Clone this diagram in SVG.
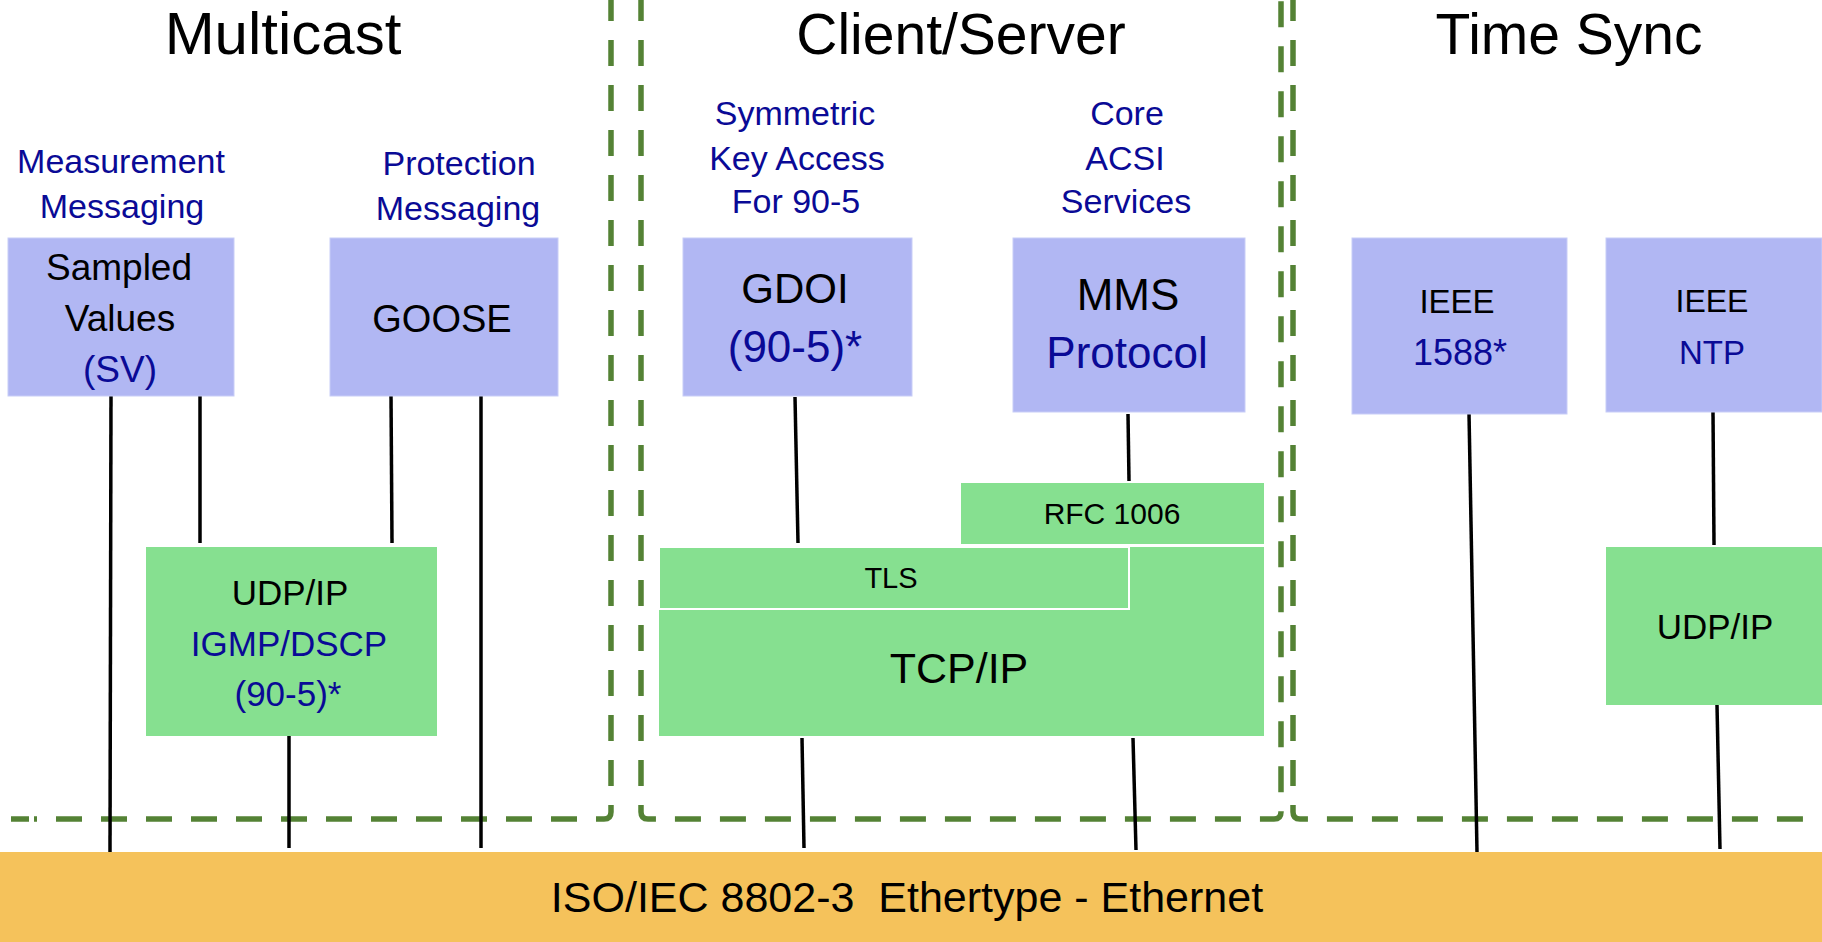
<svg xmlns="http://www.w3.org/2000/svg" width="1822" height="942" viewBox="0 0 1822 942">
<style>
text{font-family:"Liberation Sans",Arial,sans-serif;text-anchor:middle;fill:#000}
.t{font-size:57px}
.lb{font-size:34px;fill:#0a0a96}
.b{fill:#0a0a96}
.proto{fill:#b1b7f3;stroke:#c8cdf7;stroke-width:1}
.tr{fill:#86e090}
.dash{fill:none;stroke:#548235;stroke-width:5.5;stroke-dasharray:26 19}
.ln{stroke:#000;stroke-width:3.5;fill:none}
</style>
<rect width="1822" height="942" fill="#fff"/>
<g id="regions">
<path d="M11 819 H29 M34 819 H37" fill="none" stroke="#548235" stroke-width="5.5"/>
<path class="dash" d="M56 819 H604 Q611 819 611 812 V-5"/>
<path class="dash" d="M641 -5 V812 Q641 819 648 819 H1274 Q1281 819 1281 812 V-5"/>
<path class="dash" d="M1293 -5 V812 Q1293 819 1300 819 H1805"/>
</g>
<g id="titles">
<text class="t" x="283" y="54" font-size="60" style="font-size:60px">Multicast</text>
<text class="t" x="961" y="54">Client/Server</text>
<text class="t" x="1569" y="54">Time Sync</text>
</g>
<g id="connectors">
<line class="ln" x1="111" y1="394" x2="110" y2="852"/>
<line class="ln" x1="200" y1="394" x2="200" y2="543"/>
<line class="ln" x1="391" y1="394" x2="392" y2="543"/>
<line class="ln" x1="481" y1="394" x2="481" y2="848"/>
<line class="ln" x1="289" y1="735" x2="289" y2="848"/>
<line class="ln" x1="795" y1="397" x2="798" y2="543"/>
<line class="ln" x1="802" y1="738" x2="804" y2="848"/>
<line class="ln" x1="1133" y1="738" x2="1136" y2="850"/>
<line class="ln" x1="1128" y1="414" x2="1129" y2="481"/>
<line class="ln" x1="1469" y1="413" x2="1477" y2="852"/>
<line class="ln" x1="1713" y1="412" x2="1714" y2="545"/>
<line class="ln" x1="1717" y1="705" x2="1720" y2="849"/>
</g>
<g id="sv">
<text class="lb" x="121" y="173">Measurement</text>
<text class="lb" x="122" y="218">Messaging</text>
<rect class="proto" x="8" y="238" width="226" height="158"/>
<text x="119" y="280" font-size="37">Sampled</text>
<text x="120" y="331" font-size="37">Values</text>
<text x="120" y="382" font-size="37" class="b">(SV)</text>
</g>
<g id="goose">
<text class="lb" x="459" y="175">Protection</text>
<text class="lb" x="458" y="220">Messaging</text>
<rect class="proto" x="330" y="238" width="228" height="158"/>
<text x="442" y="332" font-size="38">GOOSE</text>
</g>
<g id="udp-multicast">
<rect class="tr" x="146" y="547" width="291" height="189"/>
<text x="290" y="605" font-size="35">UDP/IP</text>
<text x="289" y="656" font-size="35" class="b">IGMP/DSCP</text>
<text x="288" y="706" font-size="35" class="b">(90-5)*</text>
</g>
<g id="gdoi">
<text class="lb" x="795" y="125">Symmetric</text>
<text class="lb" x="797" y="170">Key Access</text>
<text class="lb" x="796" y="213">For 90-5</text>
<rect class="proto" x="683" y="238" width="229" height="158"/>
<text x="795" y="303" font-size="42">GDOI</text>
<text x="795" y="362" font-size="44" class="b">(90-5)*</text>
</g>
<g id="mms">
<text class="lb" x="1127" y="125">Core</text>
<text class="lb" x="1125" y="170">ACSI</text>
<text class="lb" x="1126" y="213">Services</text>
<rect class="proto" x="1013" y="238" width="232" height="174"/>
<text x="1128" y="310" font-size="44">MMS</text>
<text x="1127" y="368" font-size="44" class="b">Protocol</text>
</g>
<g id="rfc1006">
<rect class="tr" x="961" y="483" width="303" height="61"/>
<text x="1112" y="524" font-size="30">RFC 1006</text>
</g>
<g id="tcpip">
<rect class="tr" x="659" y="547" width="605" height="189"/>
<text x="959" y="683" font-size="43">TCP/IP</text>
</g>
<g id="tls">
<rect class="tr" x="659" y="547" width="470" height="62" stroke="#fff" stroke-width="2"/>
<text x="891" y="588" font-size="29">TLS</text>
</g>
<g id="ieee1588">
<rect class="proto" x="1352" y="238" width="215" height="176"/>
<text x="1457" y="313" font-size="33">IEEE</text>
<text x="1460" y="365" font-size="36" class="b">1588*</text>
</g>
<g id="ntp">
<rect class="proto" x="1606" y="238" width="216" height="174"/>
<text x="1712" y="312" font-size="32">IEEE</text>
<text x="1712" y="364" font-size="33" class="b">NTP</text>
</g>
<g id="udp-timesync">
<rect class="tr" x="1606" y="547" width="216" height="158"/>
<text x="1715" y="639" font-size="35">UDP/IP</text>
</g>
<g id="ethernet">
<rect x="0" y="852" width="1822" height="90" fill="#f5c25b"/>
<text x="907" y="912" font-size="43" xml:space="preserve">ISO/IEC 8802-3  Ethertype - Ethernet</text>
</g>
</svg>
